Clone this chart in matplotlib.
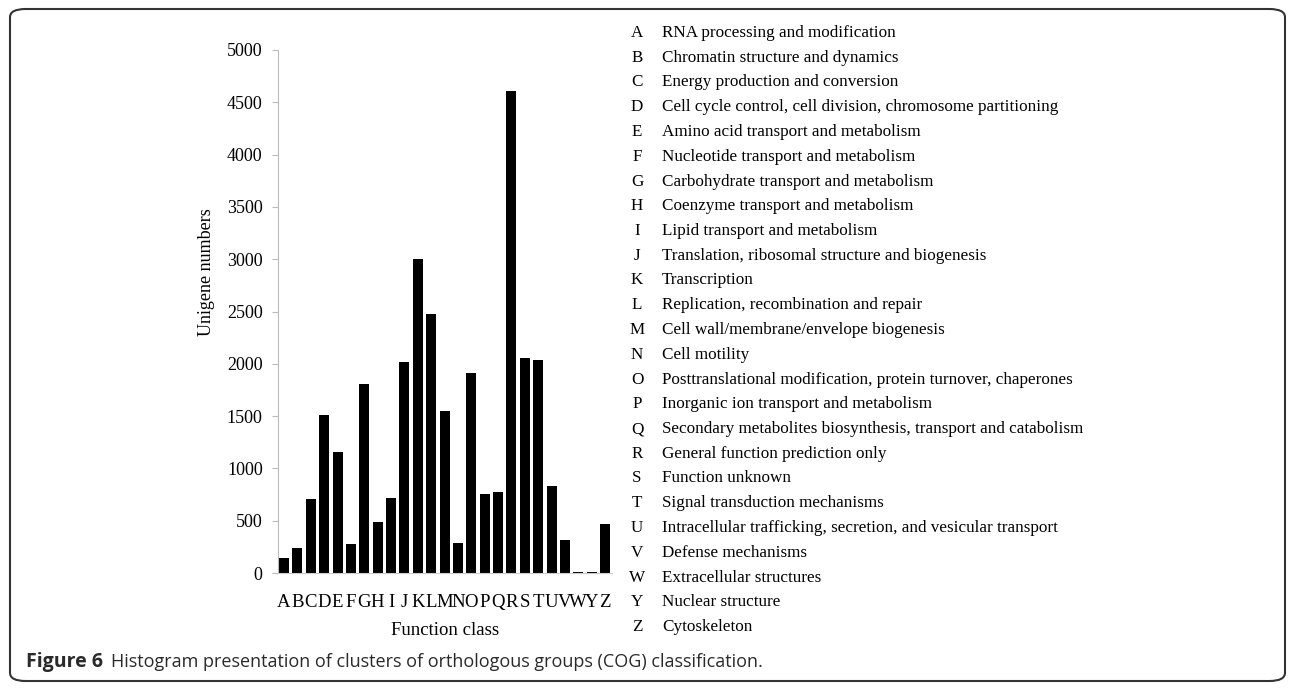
import matplotlib.pyplot as plt
from matplotlib.patches import FancyBboxPatch

# COG classes (no X in this chart)
classes = ["A", "B", "C", "D", "E", "F", "G", "H", "I", "J", "K", "L", "M",
           "N", "O", "P", "Q", "R", "S", "T", "U", "V", "W", "Y", "Z"]
counts = [140, 240, 710, 1510, 1160, 275, 1810, 490, 720, 2020, 3000, 2480, 1550,
          290, 1910, 760, 775, 4610, 2060, 2040, 830, 320, 12, 12, 470]
descriptions = [
    "RNA processing and modification",
    "Chromatin structure and dynamics",
    "Energy production and conversion",
    "Cell cycle control, cell division, chromosome partitioning",
    "Amino acid transport and metabolism",
    "Nucleotide transport and metabolism",
    "Carbohydrate transport and metabolism",
    "Coenzyme transport and metabolism",
    "Lipid transport and metabolism",
    "Translation, ribosomal structure and biogenesis",
    "Transcription",
    "Replication, recombination and repair",
    "Cell wall/membrane/envelope biogenesis",
    "Cell motility",
    "Posttranslational modification, protein turnover, chaperones",
    "Inorganic ion transport and metabolism",
    "Secondary metabolites biosynthesis, transport and catabolism",
    "General function prediction only",
    "Function unknown",
    "Signal transduction mechanisms",
    "Intracellular trafficking, secretion, and vesicular transport",
    "Defense mechanisms",
    "Extracellular structures",
    "Nuclear structure",
    "Cytoskeleton",
]
yticks = [0, 500, 1000, 1500, 2000, 2500, 3000, 3500, 4000, 4500, 5000]

W, H = 1295, 689
fig = plt.figure(figsize=(W / 100, H / 100), dpi=100)
serif = "Liberation Serif"

ax = fig.add_axes([278 / W, 1 - 573 / H, (612 - 278) / W, (573 - 50) / H])
x = list(range(len(classes)))
ax.bar(x, counts, width=0.75, color="black")
ax.set_xlim(-0.45, len(classes) - 0.48)
ax.set_ylim(0, 5000)
ax.set_yticks(yticks)
ax.set_yticklabels([str(v) for v in yticks], family=serif, fontsize=13)
ax.set_xticks(x)
ax.set_xticklabels(classes, family=serif, fontsize=13.5)
ax.tick_params(axis="x", length=0, pad=15)
ax.tick_params(axis="y", length=4, color="#bbbbbb", pad=7)
for s in ["top", "right"]:
    ax.spines[s].set_visible(False)
ax.spines["left"].set_color("#bbbbbb")
ax.spines["bottom"].set_color("#cccccc")
ax.set_xlabel("Function class", family=serif, fontsize=13.5, labelpad=8)
ax.set_ylabel("Unigene numbers", family=serif, fontsize=13)
ax.yaxis.set_label_coords(-0.19, 0.575)

# legend-like list of class descriptions
y0, dy = 33, 24.75
for i, (c, d) in enumerate(zip(classes, descriptions)):
    yy = 1 - (y0 + i * dy) / H
    fig.text(637 / W, yy, c, family=serif, fontsize=12.3, va="center", ha="center")
    fig.text(662 / W, yy, d, family=serif, fontsize=12.3, va="center", ha="left")

# caption
cap_col = "#2a2a2a"
fig.text(26 / W, 1 - 662 / H, "Figure 6", family="Open Sans", fontsize=14,
         fontweight="bold", va="center", ha="left", color=cap_col)
fig.text(111 / W, 1 - 662 / H,
         "Histogram presentation of clusters of orthologous groups (COG) classification.",
         family="Open Sans", fontsize=13, va="center", ha="left", color=cap_col)

# rounded frame
box = FancyBboxPatch((10 / W, 8 / H), 1275 / W, 672 / H,
                     boxstyle="round,pad=0,rounding_size=0.012",
                     transform=fig.transFigure, fill=False,
                     edgecolor="#333333", linewidth=1.5)
fig.patches.append(box)

fig.savefig("out.png", dpi=100)
